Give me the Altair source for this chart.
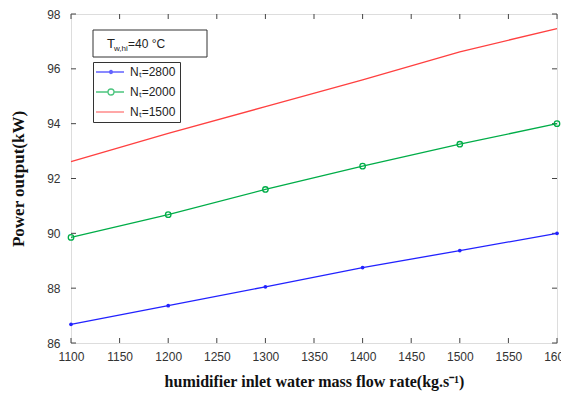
import altair as alt
import pandas as pd

flow = [1100, 1200, 1300, 1400, 1500, 1600]
p_2800 = [86.68, 87.36, 88.05, 88.75, 89.37, 90.0]
p_2000 = [89.85, 90.68, 91.6, 92.45, 93.25, 94.0]
p_1500 = [92.62, 93.65, 94.62, 95.6, 96.62, 97.47]

series = ["Nₜ=2800", "Nₜ=2000", "Nₜ=1500"]
colors = ["#2222ff", "#00ad48", "#ff4040"]
x_ticks = list(range(1100, 1601, 50))
y_ticks = [86, 88, 90, 92, 94, 96, 98]
x_title = "humidifier inlet water mass flow rate(kg.s⁻¹)"
y_title = "Power output(kW)"
note_main = "T"
note_sub = "w,hi"
note_rest = "=40 °C"

rows = []
for name, col, vals in zip(series, colors, [p_2800, p_2000, p_1500]):
    for f, v in zip(flow, vals):
        rows.append({"flow": f, "power": v, "series": name, "color": col})
df = pd.DataFrame(rows)

W, H = 486, 329
xdom = [1100, 1600]
ydom = [86, 98]
xsc = alt.Scale(domain=xdom, nice=False, zero=False)
ysc = alt.Scale(domain=ydom, nice=False, zero=False)

main_x = alt.X("flow:Q", scale=xsc, axis=alt.Axis(
    values=x_ticks, format="d", ticks=False, domain=False, labelFlush=False, grid=False,
    title=x_title,
    labelFont="Liberation Sans", labelFontSize=12, labelColor="#333", labelPadding=8,
    titleFont="Liberation Serif", titleFontSize=16, titleFontWeight="bold",
    titleColor="#111", titlePadding=11))
main_y = alt.Y("power:Q", scale=ysc, axis=alt.Axis(
    values=y_ticks, ticks=False, domain=False, labelFlush=False, grid=False,
    title=y_title,
    labelFont="Liberation Sans", labelFontSize=12, labelColor="#333", labelPadding=11,
    titleFont="Liberation Serif", titleFontSize=17, titleFontWeight="bold",
    titleColor="#111", titlePadding=19))

lines = alt.Chart(df).mark_line(strokeWidth=1.3).encode(
    x=main_x, y=main_y, color=alt.Color("color:N", scale=None), detail="series:N")
blue_pts = alt.Chart(df[df.series == series[0]]).mark_point(
    filled=True, size=14, opacity=1, shape="circle").encode(
    x=main_x, y=main_y, color=alt.Color("color:N", scale=None))
green_pts = alt.Chart(df[df.series == series[1]]).mark_point(
    filled=False, size=30, opacity=1, strokeWidth=1.3, shape="circle").encode(
    x=main_x, y=main_y, color=alt.Color("color:N", scale=None))

# inward tick marks on all four sides, placed through the scales
xt = pd.DataFrame({"flow": x_ticks})
yt = pd.DataFrame({"power": y_ticks})
tick_style = dict(color="#444", thickness=1, size=5, opacity=1)
xt_bottom = alt.Chart(xt).mark_tick(**tick_style).encode(
    x=alt.X("flow:Q", scale=xsc), y=alt.value(H - 2.5))
xt_top = alt.Chart(xt).mark_tick(**tick_style).encode(
    x=alt.X("flow:Q", scale=xsc), y=alt.value(2.5))
yt_left = alt.Chart(yt).mark_tick(**tick_style).encode(
    y=alt.Y("power:Q", scale=ysc), x=alt.value(2.5))
yt_right = alt.Chart(yt).mark_tick(**tick_style).encode(
    y=alt.Y("power:Q", scale=ysc), x=alt.value(W - 2.5))

leg_df = pd.DataFrame({"series": series})
paths = [
    "M-1.4,0H4.2M1.3,0A0.3,0.3,0,1,0,1.9,0A0.3,0.3,0,1,0,1.3,0",
    "M-1.4,0H1M2.2,0H4.2M1,0A0.6,0.6,0,1,0,2.2,0A0.6,0.6,0,1,0,1,0",
    "M-1.4,0H4.2",
]
legend_layer = alt.Chart(leg_df).mark_point(filled=False, size=100, strokeWidth=1.3).encode(
    x=alt.value(-600), y=alt.value(-600),
    color=alt.Color("series:N", scale=alt.Scale(domain=series, range=colors),
                    legend=alt.Legend(title=None, orient="none", legendX=22, legendY=48,
                                      strokeColor="#333", fillColor="white", padding=4,
                                      labelFont="Liberation Sans", labelFontSize=12,
                                      labelColor="#222", symbolSize=100,
                                      symbolStrokeWidth=1.3, rowPadding=8, labelOffset=21)),
    shape=alt.Shape("series:N", scale=alt.Scale(domain=series, range=paths), legend=None),
)

note_df = pd.DataFrame({"a": [note_main], "b": [note_sub], "c": [note_rest]})
note_box = alt.Chart(note_df).mark_rect(fill="white", stroke="#333", strokeWidth=1).encode(
    x=alt.value(22), x2=alt.value(136), y=alt.value(16), y2=alt.value(43))
note_a = alt.Chart(note_df).mark_text(align="left", baseline="alphabetic", font="Liberation Sans",
                                      fontSize=13, color="#222").encode(
    x=alt.value(36), y=alt.value(34), text="a:N")
note_b = alt.Chart(note_df).mark_text(align="left", baseline="alphabetic", font="Liberation Sans",
                                      fontSize=8, color="#222").encode(
    x=alt.value(43), y=alt.value(37), text="b:N")
note_c = alt.Chart(note_df).mark_text(align="left", baseline="alphabetic", font="Liberation Sans",
                                      fontSize=12, color="#222").encode(
    x=alt.value(57), y=alt.value(34), text="c:N")

chart = alt.layer(xt_bottom, xt_top, yt_left, yt_right,
                  lines, blue_pts, green_pts, legend_layer, note_box, note_a, note_b, note_c
).resolve_scale(color="independent", shape="independent").properties(
    width=W, height=H,
    autosize=alt.AutoSizeParams(type="none"),
    padding={"left": 63, "top": 6, "right": 4, "bottom": 48},
).configure_view(stroke="#555", strokeWidth=1).configure(background="white")

chart.save("out.html", embed_options={"renderer": "svg", "actions": False})
